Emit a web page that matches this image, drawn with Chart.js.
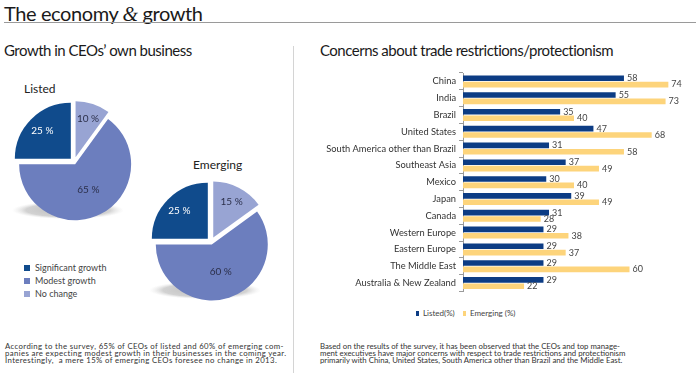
<!DOCTYPE html>
<html>
<head>
<meta charset="utf-8">
<script src="https://cdn.jsdelivr.net/npm/chart.js@4.4.1/dist/chart.umd.min.js"></script>
<style>
  body { margin: 0; width: 696px; height: 373px; background: #fff; position: relative; overflow: hidden; font-family: Lato, "Open Sans", sans-serif; color: #222; }
  .abs { position: absolute; white-space: nowrap; }
  #title { left: 4px; top: 1px; font-size: 20px; letter-spacing: -0.4px; color: #1a1a1a; }
  #title i { font-family: "Liberation Serif", serif; font-style: italic; font-size: 20px; }
  #rule { left: 4px; top: 22px; width: 692px; height: 0; border-top: 1px solid #9a9a9a; }
  #divider { left: 293px; top: 46px; width: 0; height: 327px; border-left: 1px solid #d4d4d4; }
  .sub { top: 41px; font-size: 15px; letter-spacing: -0.5px; color: #1a1a1a; }
  .pieName { font-size: 12px; color: #222; }
  canvas { position: absolute; }
  .legend div { height: 13px; line-height: 13px; font-size: 9px; color: #444; }
  .sq { display: inline-block; width: 6px; height: 6px; margin-right: 5px; vertical-align: 0; }
  .note { font-size: 7.8px; line-height: 7px; color: #333; top: 343px; }
  #barLegend { left: 416px; top: 308px; font-size: 8px; color: #444; }
  #barLegend .sq { width: 3px; height: 5px; margin-right: 4px; }
</style>
</head>
<body>
<div class="abs" id="title">The economy <i>&amp;</i> growth</div>
<div class="abs" id="rule"></div>
<div class="abs" id="divider"></div>

<div class="abs sub" style="left:4px;">Growth in CEOs’ own business</div>
<div class="abs pieName" style="left:24px; top:81px;">Listed</div>
<div class="abs pieName" style="left:193px; top:157px;">Emerging</div>
<canvas id="listedPie" width="140" height="140" style="left:4px; top:92px;"></canvas>
<canvas id="emergingPie" width="140" height="140" style="left:141px; top:172px;"></canvas>
<div class="abs legend" id="pieLegend" style="left:24px; top:261px;"></div>

<div class="abs note" style="left:5px; letter-spacing:0.36px;">According to the survey, 65% of CEOs of listed and 60% of emerging com-<br>panies are expecting modest growth in their businesses in the coming year.<br>Interestingly,&nbsp; a mere 15% of emerging CEOs foresee no change in 2013.</div>

<div class="abs sub" style="left:320px;">Concerns about trade restrictions/protectionism</div>
<canvas id="barChart" width="396" height="240" style="left:300px; top:60px;"></canvas>
<div class="abs" id="barLegend"></div>

<div class="abs note" style="left:320px;">Based on the results of the survey, it has been observed that the CEOs and top manage-<br>ment executives have major concerns with respect to trade restrictions and protectionism<br>primarily with China, United States, South America other than Brazil and the Middle East.</div>

<script>
// Данные: рост бизнеса (легенда сверху вниз)
const pieLabels = ['Significant growth', 'Modest growth', 'No change'];
const listedShares = [25, 65, 10];
const emergingShares = [25, 60, 15];
const pieColors = ['#104b8c', '#6c7ebe', '#98a4d3'];

// Данные: торговые ограничения
const regions = ['China', 'India', 'Brazil', 'United States', 'South America other than Brazil', 'Southeast Asia', 'Mexico', 'Japan', 'Canada', 'Western Europe', 'Eastern Europe', 'The Middle East', 'Australia & New Zealand'];
const listedConcern = [58, 55, 35, 47, 31, 37, 30, 39, 31, 29, 29, 29, 29];
const emergingConcern = [74, 73, 40, 68, 58, 49, 40, 49, 28, 38, 37, 60, 22];
const barSeries = ['Listed(%)', 'Emerging (%)'];
const barColors = ['#0c3c84', '#fdd47b'];

// Сдвиг секторов наружу (по часовой от верха: No change, Modest, Significant)
const explode = {
    id: 'explode',
    afterDatasetUpdate(chart, args) {
        const dist = chart.data.datasets[args.index].explode;
        args.meta.data.forEach((arc, i) => {
            if (arc._exploded) return;
            arc._exploded = true;
            const base = arc.draw;
            arc.draw = function (ctx, area) {
                const mid = (this.startAngle + this.endAngle) / 2;
                ctx.save();
                ctx.translate(Math.cos(mid) * dist[i], Math.sin(mid) * dist[i]);
                base.call(this, ctx, area);
                ctx.restore();
            };
        });
    }
};

// Тень под кругом
const pieShadow = {
    id: 'pieShadow',
    beforeDatasetsDraw(chart) {
        const arc = chart.getDatasetMeta(0).data[0];
        const r = arc.outerRadius;
        const ctx = chart.ctx;
        ctx.save();
        ctx.translate(arc.x - 6, arc.y + r * 0.86);
        ctx.scale(1, 0.16);
        const g = ctx.createRadialGradient(0, 0, 0, 0, 0, r);
        g.addColorStop(0, '#bcbcbc');
        g.addColorStop(0.75, '#d2d2d2');
        g.addColorStop(1, 'rgba(235,235,235,0)');
        ctx.fillStyle = g;
        ctx.beginPath();
        ctx.arc(0, 0, r, 0, Math.PI * 2);
        ctx.fill();
        ctx.restore();
    }
};

// Подписи процентов в секторах
const sliceLabels = {
    id: 'sliceLabels',
    afterDatasetsDraw(chart) {
        const ctx = chart.ctx;
        const ds = chart.data.datasets[0];
        chart.getDatasetMeta(0).data.forEach((arc, i) => {
            const mid = (arc.startAngle + arc.endAngle) / 2;
            const v = ds.data[i];
            const d = arc.outerRadius * (v > 50 ? 0.52 : 0.72) + ds.explode[i];
            ctx.save();
            ctx.font = '10px Lato, sans-serif';
            ctx.fillStyle = ds.backgroundColor[i] === pieColors[0] ? '#ffffff' : '#2b2f4a';
            ctx.textAlign = 'center';
            ctx.textBaseline = 'middle';
            ctx.fillText(v + ' %', arc.x + Math.cos(mid) * d, arc.y + Math.sin(mid) * d);
            ctx.restore();
        });
    }
};

function makePie(id, shares) {
    // порядок по часовой стрелке от 12 часов
    const order = [2, 1, 0];
    return new Chart(document.getElementById(id), {
        type: 'pie',
        data: {
            labels: order.map(i => pieLabels[i]),
            datasets: [{
                data: order.map(i => shares[i]),
                backgroundColor: order.map(i => pieColors[i]),
                borderWidth: 0,
                explode: [5, 2.5, 4.5]
            }]
        },
        options: {
            responsive: false,
            animation: false,
            radius: 56,
            plugins: { legend: { display: false }, tooltip: { enabled: false } }
        },
        plugins: [pieShadow, explode, sliceLabels]
    });
}

makePie('listedPie', listedShares);
makePie('emergingPie', emergingShares);

// Легенда для кругов
const pieLegend = document.getElementById('pieLegend');
pieLabels.forEach((name, i) => {
    const row = document.createElement('div');
    row.innerHTML = `<span class="sq" style="background:${pieColors[i]}"></span>${name}`;
    pieLegend.appendChild(row);
});

// Подписи значений у концов столбцов
const valueLabels = {
    id: 'valueLabels',
    afterDatasetsDraw(chart) {
        const ctx = chart.ctx;
        ctx.save();
        ctx.font = '9px Lato, sans-serif';
        ctx.fillStyle = '#444';
        ctx.textBaseline = 'middle';
        chart.data.datasets.forEach((ds, di) => {
            chart.getDatasetMeta(di).data.forEach((bar, i) => {
                ctx.fillText(ds.data[i], bar.x + 3, bar.y);
            });
        });
        ctx.restore();
    }
};

new Chart(document.getElementById('barChart'), {
    type: 'bar',
    data: {
        labels: regions,
        datasets: [
            { label: barSeries[0], data: listedConcern, backgroundColor: barColors[0], categoryPercentage: 0.76, barPercentage: 0.88 },
            { label: barSeries[1], data: emergingConcern, backgroundColor: barColors[1], categoryPercentage: 0.76, barPercentage: 0.88 }
        ]
    },
    options: {
        indexAxis: 'y',
        responsive: false,
        animation: false,
        layout: { padding: { top: 13, right: 11, bottom: 5, left: 0 } },
        scales: {
            x: { display: false, min: 0, max: 80 },
            y: {
                afterFit(scale) { scale.width = 163; },
                grid: { drawOnChartArea: false, offset: true, tickLength: 4, color: '#9a9a9a' },
                border: { color: '#9a9a9a' },
                ticks: { padding: 3, color: '#333', font: { family: 'Lato', size: 9.3 } }
            }
        },
        plugins: { legend: { display: false }, tooltip: { enabled: false } }
    },
    plugins: [valueLabels]
});

// Легенда для столбцов
const barLegend = document.getElementById('barLegend');
barLegend.innerHTML = barSeries.map((name, i) =>
    `<span class="sq" style="background:${barColors[i]}"></span>${name}`).join('&nbsp;&nbsp;&nbsp;&nbsp;');
</script>
</body>
</html>
